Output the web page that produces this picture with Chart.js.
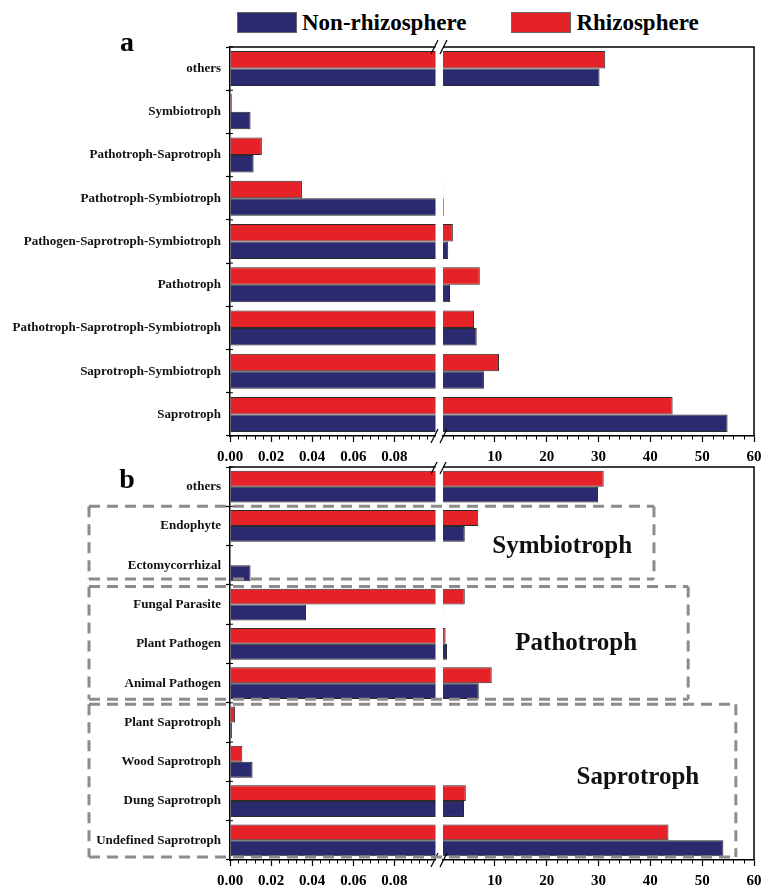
<!DOCTYPE html>
<html>
<head>
<meta charset="utf-8">
<script src="https://cdn.jsdelivr.net/npm/chart.js@4.4.1/dist/chart.umd.min.js"></script>
<style>
  html, body { margin: 0; padding: 0; background: #fff; }
  #fig { position: relative; width: 763px; height: 889px; overflow: hidden;
         font-family: "Liberation Serif", "Times New Roman", serif; font-weight: bold; color: #000; }
  #fig canvas { position: absolute; display: block; }
  .tag { position: absolute; font-size: 28px; line-height: 28px; width: 30px; text-align: center; }
  #legend { position: absolute; left: 237px; top: 12px; height: 21px; display: flex; align-items: center; }
  .sw { width: 60px; height: 21px; box-sizing: border-box; border: 1px solid #666; }
  .lt { font-size: 23px; line-height: 21px; margin-left: 5px; margin-right: 45px; white-space: nowrap; }
</style>
</head>
<body>
<div id="fig">
  <div id="legend"></div>
  <canvas id="aL" width="439" height="465" style="left:0;top:0"></canvas>
  <canvas id="aR" width="324" height="465" style="left:439px;top:0"></canvas>
  <canvas id="bL" width="439" height="427" style="left:0;top:462px"></canvas>
  <canvas id="bR" width="324" height="427" style="left:439px;top:462px"></canvas>
  <div class="tag" style="left:112px;top:28px">a</div>
  <div class="tag" style="left:112px;top:465px">b</div>
</div>
<script>
// Series
const seriesNames  = ['Non-rhizosphere', 'Rhizosphere'];
const seriesColors = ['#2c2a6e', '#e42227'];

// Panel a: trophic modes (relative abundance, %)
const guildsA = ['others', 'Symbiotroph', 'Pathotroph-Saprotroph', 'Pathotroph-Symbiotroph',
  'Pathogen-Saprotroph-Symbiotroph', 'Pathotroph', 'Pathotroph-Saprotroph-Symbiotroph',
  'Saprotroph-Symbiotroph', 'Saprotroph'];
const nonRhizoA = [30.2, 0.010, 0.0115, 0.15, 1.0, 1.35, 6.5, 7.9, 54.9];
const rhizoA    = [31.3, 0.0009, 0.0155, 0.035, 1.9, 7.1, 6.0, 10.8, 44.3];

// Panel b: guilds (relative abundance, %)
const guildsB = ['others', 'Endophyte', 'Ectomycorrhizal', 'Fungal Parasite', 'Plant Pathogen',
  'Animal Pathogen', 'Plant Saprotroph', 'Wood Saprotroph', 'Dung Saprotroph', 'Undefined Saprotroph'];
const nonRhizoB = [29.9, 4.2, 0.010, 0.037, 0.77, 6.9, 0.001, 0.011, 4.05, 54.1];
const rhizoB    = [31.0, 6.8, 0, 4.2, 0.5, 9.4, 0.0025, 0.006, 4.4, 43.5];

// Broken value axis: a low segment and a high segment
const lowRange   = [0, 0.1];
const highRange  = [0, 60];
const lowTicks   = [0, 0.02, 0.04, 0.06, 0.08];
const highTicks  = [10, 20, 30, 40, 50, 60];
const lowMinorStep  = 0.004;
const highMinorStep = 2;

// Trophic-mode groups outlined in panel b
const guildGroups = [
  { name: 'Symbiotroph', from: 'Endophyte',        to: 'Ectomycorrhizal',      reach: 40.7, textAt: 23.0, inset: [0, 6],     dy: 1 },
  { name: 'Pathotroph',  from: 'Fungal Parasite',  to: 'Animal Pathogen',      reach: 47.3, textAt: 25.7, inset: [1.5, 3.5], dy: 0 },
  { name: 'Saprotroph',  from: 'Plant Saprotroph', to: 'Undefined Saprotroph', reach: 56.5, textAt: 37.6, inset: [1.5, 3],   dy: -4 }
];

const FONT = '"Liberation Serif", "Times New Roman", serif';
const SPLIT = 439;      // page x where the high-segment canvas begins
const BOX_LEFT = 89;    // page x of the group outlines' left side
const charts = {};

// legend
const legendEl = document.getElementById('legend');
seriesNames.forEach((name, i) => {
  const sw = document.createElement('div');
  sw.className = 'sw';
  sw.style.background = seriesColors[i];
  const lt = document.createElement('div');
  lt.className = 'lt';
  lt.textContent = name;
  legendEl.appendChild(sw);
  legendEl.appendChild(lt);
});

function minorValues(range, step, majors) {
  const out = [];
  const n = Math.round((range[1] - range[0]) / step);
  for (let i = 1; i < n; i++) {
    const v = +(range[0] + i * step).toFixed(6);
    if (!majors.some(m => Math.abs(m - v) < step / 10)) out.push(v);
  }
  return out;
}

function drawGroups(chart, o) {
  const right = charts.bR;
  if (!right) return;
  const { ctx, chartArea: a } = chart;
  const xr = right.scales.x;
  const step = (a.bottom - a.top) / guildsB.length;
  ctx.save();
  ctx.strokeStyle = '#8c8c8c';
  ctx.lineWidth = 3;
  ctx.setLineDash([11, 7]);
  guildGroups.forEach(g => {
    const i0 = guildsB.indexOf(g.from), i1 = guildsB.indexOf(g.to);
    const y0 = a.top + i0 * step + g.inset[0];
    const y1 = a.top + (i1 + 1) * step - g.inset[1];
    const x0 = BOX_LEFT - o.pageX;
    const x1 = SPLIT + xr.getPixelForValue(g.reach) - o.pageX;
    ctx.beginPath();
    ctx.moveTo(x0, y0); ctx.lineTo(x1, y0);
    ctx.moveTo(x0, y1); ctx.lineTo(x1, y1);
    ctx.moveTo(x0, y0); ctx.lineTo(x0, y1);
    ctx.moveTo(x1, y0); ctx.lineTo(x1, y1);
    ctx.stroke();
    if (o.side === 'right') {
      ctx.save();
      ctx.setLineDash([]);
      ctx.fillStyle = '#111';
      ctx.font = 'bold 25px ' + FONT;
      ctx.textAlign = 'center';
      ctx.textBaseline = 'middle';
      const yc = a.top + (i0 + i1 + 1) / 2 * step + g.dy;
      ctx.fillText(g.name, xr.getPixelForValue(g.textAt), yc);
      ctx.restore();
    }
  });
  ctx.restore();
}

// frame, minor ticks, axis-break marks and overlays
const decor = {
  id: 'decor',
  afterDraw(chart, args, o) {
    const { ctx, chartArea: a } = chart;
    const xs = chart.scales.x, ys = chart.scales.y;
    const seg = (x1, y1, x2, y2) => { ctx.beginPath(); ctx.moveTo(x1, y1); ctx.lineTo(x2, y2); ctx.stroke(); };
    ctx.save();
    ctx.strokeStyle = '#000';
    ctx.lineWidth = 1.5;
    seg(a.left, a.top, a.right + (o.side === 'right' ? 0.75 : 0), a.top);
    if (o.side === 'right') seg(a.right, a.top, a.right, a.bottom);
    ctx.lineWidth = 1;
    o.minor.forEach(v => {
      const px = Math.round(xs.getPixelForValue(v)) + 0.5;
      seg(px, a.bottom, px, a.bottom + 3.5);
    });
    if (o.side === 'left') {
      const n = ys.getLabels().length;
      const step = (a.bottom - a.top) / n;
      for (let i = 0; i <= n; i++) {
        const y = a.top + i * step;
        seg(a.left, y, a.left + 3, y);
      }
    }
    ctx.lineWidth = 1.2;
    const bx = o.side === 'left' ? a.right - 1 : a.left + 0.5;
    [a.top, a.bottom].forEach(y => seg(bx - 3.5, y + 7, bx + 3.5, y - 7));
    ctx.restore();
    if (o.overlay) o.overlay(chart, o);
  }
};

function makeSegment(id, side, labels, non, rh, padTop, pageX, overlay) {
  const low = side === 'left';
  const tickVals = low ? lowTicks : highTicks;
  const range = low ? lowRange : highRange;
  const minor = low ? minorValues(lowRange, lowMinorStep, lowTicks)
                    : minorValues(highRange, highMinorStep, highTicks);
  const bar = (label, data, color) => ({
    label, data, backgroundColor: color, borderColor: '#2a2a2a', borderWidth: 1,
    borderSkipped: 'start', categoryPercentage: 0.81, barPercentage: 1, clip: 0
  });
  return new Chart(document.getElementById(id), {
    type: 'bar',
    data: {
      labels,
      datasets: [bar(seriesNames[1], rh, seriesColors[1]), bar(seriesNames[0], non, seriesColors[0])]
    },
    options: {
      indexAxis: 'y',
      responsive: false,
      animation: false,
      devicePixelRatio: 1,
      events: [],
      layout: { padding: { top: padTop, bottom: 0, left: low ? 0 : 4, right: low ? 3.5 : 9 } },
      plugins: {
        legend: { display: false },
        tooltip: { enabled: false },
        decor: { side, minor, overlay, pageX }
      },
      scales: {
        x: {
          type: 'linear', min: range[0], max: range[1],
          afterBuildTicks: s => { s.ticks = tickVals.map(v => ({ value: v })); },
          afterFit: s => { s.height = 29; s.paddingLeft = 0; s.paddingRight = 0; },
          ticks: {
            autoSkip: false, maxRotation: 0, padding: 6, color: '#000',
            font: { family: FONT, size: 15, weight: 'bold' },
            callback: v => low ? Number(v).toFixed(2) : String(v)
          },
          grid: { drawOnChartArea: false, drawTicks: true, tickLength: 6, tickColor: '#000', tickWidth: 1.2 },
          border: { display: true, color: '#000', width: 1.5 }
        },
        y: {
          display: low,
          afterFit: s => { s.width = low ? 230 : 0; s.paddingTop = 0; s.paddingBottom = 0; },
          ticks: { padding: 5, color: '#111', font: { family: FONT, size: 13, weight: 'bold' } },
          grid: { offset: true, drawOnChartArea: false, drawTicks: true, tickLength: 4, tickColor: '#000', tickWidth: 1.2 },
          border: { display: true, color: '#000', width: 1.5 }
        }
      }
    },
    plugins: [decor]
  });
}

charts.aR = makeSegment('aR', 'right', guildsA, nonRhizoA, rhizoA, 47, SPLIT, null);
charts.aL = makeSegment('aL', 'left',  guildsA, nonRhizoA, rhizoA, 47, 0, null);
charts.bR = makeSegment('bR', 'right', guildsB, nonRhizoB, rhizoB, 5, SPLIT, drawGroups);
charts.bL = makeSegment('bL', 'left',  guildsB, nonRhizoB, rhizoB, 5, 0, drawGroups);
charts.bR.draw();
</script>
</body>
</html>
